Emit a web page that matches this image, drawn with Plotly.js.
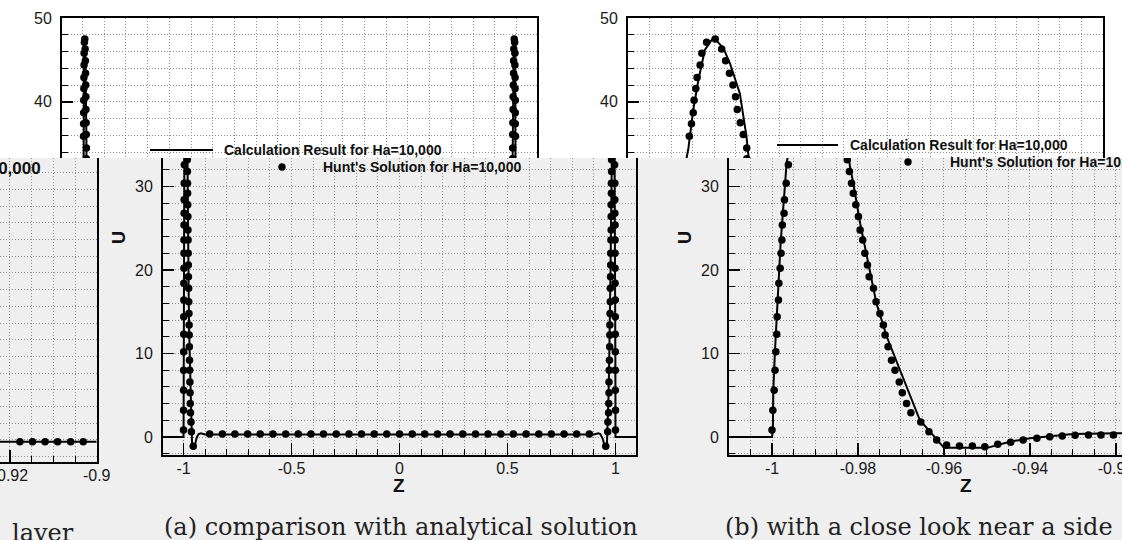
<!DOCTYPE html>
<html><head><meta charset="utf-8">
<script src="https://cdn.plot.ly/plotly-3.0.1.min.js"></script>
<style>html,body{margin:0;padding:0;background:#efefef;}#chart{width:1122px;height:540px;}</style>
</head><body><div id="chart"></div>
<script>
// ---------- DATA ----------
// Calculation result (solid line), left side wall and plateau start
const calcLeftZ = [-1.1, -1.0, -0.9998, -0.9997, -0.9993, -0.9989, -0.9984, -0.998, -0.9974, -0.9966, -0.996, -0.9949, -0.9937, -0.9922, -0.9902, -0.9879, -0.9864, -0.9841, -0.9826, -0.9819, -0.9811, -0.9795, -0.9776, -0.9757, -0.9733, -0.9702, -0.9679, -0.9656, -0.9629, -0.96, -0.95, -0.9447, -0.94, -0.9353, -0.93, -0.92, -0.9];
const calcLeftU = [0, 0, 0.8, 5.6, 10.4, 15.2, 19.2, 23.2, 27.2, 32.8, 34.5, 39.0, 42.6, 46.2, 47.7, 46.4, 44.6, 41.0, 36.0, 32.5, 30.4, 25.6, 20.8, 16.0, 12.0, 8.0, 5.0, 2.0, 0.44, -1.3, -1.3, -0.56, -0.16, 0.12, 0.36, 0.44, 0.3];
// Calculation result, right side wall
const calcRightZ = [0.9, 0.92, 0.93, 0.9353, 0.94, 0.9447, 0.95, 0.96, 0.9629, 0.9656, 0.9679, 0.9702, 0.9733, 0.9757, 0.9776, 0.9795, 0.9811, 0.9819, 0.9826, 0.9841, 0.9864, 0.9879, 0.9902, 0.9922, 0.9937, 0.9949, 0.996, 0.9966, 0.9974, 0.998, 0.9984, 0.9989, 0.9993, 0.9997, 0.9998, 1.0, 1.1];
const calcRightU = [0.3, 0.44, 0.36, 0.12, -0.16, -0.56, -1.3, -1.3, 0.44, 2.0, 5.0, 8.0, 12.0, 16.0, 20.8, 25.6, 30.4, 32.5, 36.0, 41.0, 44.6, 46.4, 47.7, 46.2, 42.6, 39.0, 34.5, 32.8, 27.2, 23.2, 19.2, 15.2, 10.4, 5.6, 0.8, 0, 0];

// Hunt's solution (dots): left wall, rising branch
const huntRiseZ = [-1.0, -0.9998, -0.9995, -0.9993, -0.9991, -0.9989, -0.9988, -0.9985, -0.9984, -0.9981, -0.9979, -0.9977, -0.9976, -0.9972, -0.9971, -0.9967, -0.9962];
const huntRiseU = [0.84, 3.2, 5.6, 8.0, 10.2, 12.3, 14.4, 16.4, 18.4, 20.2, 22.0, 23.6, 25.4, 26.8, 28.4, 30.4, 32.6];
// peak
const huntPeakZ = [-0.9958, -0.9953, -0.9949, -0.9947, -0.9943, -0.994, -0.9933, -0.9929, -0.9918, -0.9898, -0.9883, -0.9874, -0.9865, -0.9857, -0.9851, -0.9847, -0.984, -0.9833, -0.9825];
const huntPeakU = [35.9, 37.4, 38.7, 40.2, 41.6, 42.9, 44.4, 45.8, 47.1, 47.5, 46.3, 44.9, 43.4, 42.0, 40.6, 39.1, 37.5, 36.1, 34.5];
// falling branch
const huntFallZ = [-0.9825, -0.982, -0.9815, -0.9811, -0.9805, -0.9799, -0.9795, -0.9789, -0.9784, -0.9778, -0.9774, -0.9764, -0.9758, -0.9749, -0.9741, -0.9737, -0.973, -0.9722, -0.9714, -0.9704, -0.9697, -0.9687, -0.9677, -0.9654, -0.9635];
const huntFallU = [33.2, 31.8, 30.4, 29.2, 27.8, 26.4, 24.8, 23.6, 22.0, 20.6, 19.2, 17.8, 16.2, 14.8, 13.4, 12.2, 10.8, 9.2, 8.0, 6.6, 5.3, 4.0, 2.9, 1.8, 0.64];
// tail seen in the close-up (b)
const huntTailZ = [-0.9617, -0.9594, -0.9564, -0.9534, -0.9505, -0.9475, -0.9445, -0.9416, -0.9384, -0.9354, -0.9325, -0.9295, -0.9264, -0.9235, -0.9206];
const huntTailU = [-0.36, -0.96, -1.08, -1.08, -1.16, -0.88, -0.64, -0.36, -0.16, 0.04, 0.12, 0.2, 0.24, 0.24, 0.24];
// dips and core plateau seen in (a)
const huntDipZ = [-0.955, 0.955];
const huntDipU = [-1.1, -1.1];
const plateauZ = [-0.879, -0.820, -0.762, -0.703, -0.645, -0.586, -0.527, -0.469, -0.410, -0.352, -0.293, -0.234, -0.176, -0.117, -0.059, 0, 0.059, 0.117, 0.176, 0.234, 0.293, 0.352, 0.410, 0.469, 0.527, 0.586, 0.645, 0.703, 0.762, 0.820, 0.879];
const plateauU = [0.35, 0.35, 0.35, 0.35, 0.35, 0.35, 0.35, 0.35, 0.35, 0.35, 0.35, 0.35, 0.35, 0.35, 0.35, 0.35, 0.35, 0.35, 0.35, 0.35, 0.35, 0.35, 0.35, 0.35, 0.35, 0.35, 0.35, 0.35, 0.35, 0.35, 0.35];
// right wall dots in (a)
const huntRightZ = [0.964, 0.965, 0.968, 0.969, 0.970, 0.970, 0.971, 0.972, 0.973, 0.974, 0.974, 0.975, 0.976, 0.976, 0.977, 0.978, 0.978, 0.979, 0.980, 0.980, 0.980, 0.981, 0.981, 0.982, 0.982, 0.983, 0.983, 0.984, 0.985, 0.985, 0.986, 0.987, 0.987, 0.988, 0.990, 0.992, 0.993, 0.993, 0.994, 0.994, 0.995, 0.995, 0.995, 0.996, 0.996, 0.997, 0.997, 0.997, 0.998, 0.998, 0.998, 0.998, 0.998, 0.999, 0.999, 0.999, 0.999, 0.999, 0.999, 1.000, 1.000];
const huntRightU = [0.64, 1.8, 2.9, 4.0, 5.3, 6.6, 8.0, 9.2, 10.8, 12.2, 13.4, 14.8, 16.2, 17.8, 19.2, 20.6, 22.0, 23.6, 24.8, 26.4, 27.8, 29.2, 30.4, 31.8, 33.2, 34.5, 36.1, 37.5, 39.1, 40.6, 42.0, 43.4, 44.9, 46.3, 47.5, 47.1, 45.8, 44.4, 42.9, 41.6, 40.2, 38.7, 37.4, 35.9, 32.6, 30.4, 28.4, 26.8, 25.4, 23.6, 22.0, 20.2, 18.4, 16.4, 14.4, 12.3, 10.2, 8.0, 5.6, 3.2, 0.84];

// preceding figure (partly visible at the left)
const prevLineZ = [-0.93, -0.9];
const prevLineU = [-0.2, -0.2];
const prevDotZ = [-0.9177, -0.9148, -0.9119, -0.9090, -0.9060, -0.9031];
const prevDotU = [-0.2, -0.2, -0.2, -0.2, -0.2, -0.2];

// tick labels
const tickValsA = [-1, -0.5, 0, 0.5, 1];
const tickTextA = ['-1', '-0.5', '0', '0.5', '1'];
const tickValsB = [-1, -0.98, -0.96, -0.94, -0.92];
const tickTextB = ['-1', '-0.98', '-0.96', '-0.94', '-0.92'];
const tickValsP = [-0.92, -0.9];
const tickTextP = ['-0.92', '-0.9'];

const calcLabel = 'Calculation Result for Ha=10,000';
const huntLabel = "Hunt's Solution for Ha=10,000";
const captionA = '(a) comparison with analytical solution';
const captionB = '(b) with a close look near a side';
const captionPrev = 'layer';

// ---------- assembled series ----------
const calcZ = calcLeftZ.concat(calcRightZ);
const calcU = calcLeftU.concat(calcRightU);
const huntAZ = huntRiseZ.concat(huntPeakZ, huntFallZ, huntDipZ.slice(0,1), plateauZ, huntDipZ.slice(1), huntRightZ);
const huntAU = huntRiseU.concat(huntPeakU, huntFallU, huntDipU.slice(0,1), plateauU, huntDipU.slice(1), huntRightU);
const huntBZ = huntRiseZ.concat(huntPeakZ, huntFallZ, huntTailZ);
const huntBU = huntRiseU.concat(huntPeakU, huntFallU, huntTailU);

// ---------- layout helpers ----------
const W = 1122, H = 540, CUT = 158;
const fx = p => p / W, fy = p => 1 - p / H;
const SANS = '"Liberation Sans", Arial, sans-serif';
const SERIF = '"DejaVu Serif", serif';
const GRID = '#8e8e8e';
const DASH = '1px,2px';

function base(extra) {
  return Object.assign({
    showline: true, linecolor: '#000', linewidth: 2, zeroline: false,
    showgrid: true, gridcolor: GRID, gridwidth: 1, griddash: DASH,
    tickcolor: '#000', tickwidth: 1.5, ticklen: 11,
    tickfont: {family: SANS, size: 16, color: '#1a1a1a'},
    fixedrange: true, automargin: false, ticklabeloverflow: 'allow'
  }, extra);
}
function minor(dtick, ticks) {
  return {tickmode: 'linear', tick0: 0, dtick: dtick, ticks: ticks, ticklen: 6, tickwidth: 1,
          tickcolor: '#000', showgrid: true, gridcolor: GRID, gridwidth: 1, griddash: DASH};
}
function lineTrace(x, y, xa, ya) {
  return {x: x, y: y, xaxis: xa, yaxis: ya, type: 'scatter', mode: 'lines',
          line: {color: '#000', width: 2}, hoverinfo: 'skip', showlegend: false};
}
function dotTrace(x, y, xa, ya) {
  return {x: x, y: y, xaxis: xa, yaxis: ya, type: 'scatter', mode: 'markers',
          marker: {color: '#000', size: 7.5}, hoverinfo: 'skip', showlegend: false};
}
function note(text, px, py, opts) {
  return Object.assign({text: text, x: fx(px), y: fy(py), xref: 'paper', yref: 'paper',
    showarrow: false, xanchor: 'center', yanchor: 'middle'}, opts);
}

const data = [
  lineTrace(calcZ, calcU, 'x', 'y'), dotTrace(huntAZ, huntAU, 'x', 'y'),
  lineTrace(calcZ, calcU, 'x2', 'y2'), dotTrace(huntBZ, huntBU, 'x2', 'y2'),
  lineTrace(calcZ, calcU, 'x3', 'y3'), dotTrace(huntAZ, huntAU, 'x3', 'y3'),
  lineTrace(calcZ, calcU, 'x4', 'y4'), dotTrace(huntBZ, huntBU, 'x4', 'y4'),
  lineTrace(prevLineZ, prevLineU, 'x5', 'y5'), dotTrace(prevDotZ, prevDotU, 'x5', 'y5')
];

const topY = [fy(CUT), fy(18)];
const botY = [fy(455), fy(CUT)];
const bold18 = {family: SANS, size: 18, weight: 'bold', color: '#111'};
const bold19 = {family: SANS, size: 19, weight: 'bold', color: '#111'};
const legFont = {family: SANS, size: 14, weight: 'bold', color: '#111'};
const capFont = {family: SERIF, size: 24, color: '#222'};

const layout = {
  width: W, height: H, margin: {l: 0, r: 0, t: 0, b: 0, pad: 0},
  paper_bgcolor: '#efefef', plot_bgcolor: 'rgba(0,0,0,0)', showlegend: false,
  xaxis: base({domain: [fx(62), fx(537)], range: [-1.095, 1.095], anchor: 'y', side: 'top',
    ticks: '', showticklabels: false, tickmode: 'linear', tick0: 0, dtick: 0.5, minor: minor(0.1, '')}),
  yaxis: base({domain: topY, range: [33.3, 50], anchor: 'x', mirror: true, ticks: 'inside',
    tickmode: 'linear', tick0: 0, dtick: 10, minor: minor(2, 'inside'), ticklabelstandoff: 5}),
  xaxis2: base({domain: [fx(628), fx(1103)], range: [-1.01, -0.9], anchor: 'y2', side: 'top',
    ticks: '', showticklabels: false, tickmode: 'linear', tick0: 0, dtick: 0.02, minor: minor(0.005, '')}),
  yaxis2: base({domain: topY, range: [33.3, 50], anchor: 'x2', mirror: true, ticks: 'inside',
    tickmode: 'linear', tick0: 0, dtick: 10, minor: minor(2, 'inside'), ticklabelstandoff: 5}),
  xaxis3: base({domain: [fx(163), fx(636)], range: [-1.095, 1.095], anchor: 'y3', ticks: 'inside', ticklen: 12,
    tickmode: 'array', tickvals: tickValsA, ticktext: tickTextA, minor: minor(0.1, 'inside'), ticklabelstandoff: -2}),
  yaxis3: base({domain: botY, range: [-2.156, 33.41], anchor: 'x3', mirror: true, ticks: 'inside',
    tickmode: 'linear', tick0: 0, dtick: 10, minor: minor(2, 'inside'), ticklabelstandoff: 5}),
  xaxis4: base({domain: [fx(729), 1], range: [-1.01, -0.9186], anchor: 'y4', ticks: 'inside', ticklen: 12,
    tickmode: 'array', tickvals: tickValsB, ticktext: tickTextB, minor: minor(0.005, 'inside'), ticklabelstandoff: -2}),
  yaxis4: base({domain: botY, range: [-2.156, 33.41], anchor: 'x4', mirror: false, ticks: 'inside',
    tickmode: 'linear', tick0: 0, dtick: 10, minor: minor(2, 'inside'), ticklabelstandoff: 5}),
  xaxis5: base({domain: [0, fx(96.7)], range: [-0.92228, -0.9], anchor: 'y5', ticks: 'inside', ticklen: 12,
    tickmode: 'array', tickvals: tickValsP, ticktext: tickTextP, minor: minor(0.005, 'inside'), ticklabelstandoff: -2}),
  yaxis5: base({domain: [fy(461.7), fy(CUT)], range: [-2.6, 33.77], anchor: 'x5', side: 'right', mirror: false,
    ticks: '', showticklabels: false, tickmode: 'linear', tick0: 0, dtick: 10, minor: minor(2, '')}),
  shapes: [
    {type: 'rect', xref: 'paper', yref: 'paper', x0: 0, x1: 1, y0: fy(CUT), y1: 1,
     fillcolor: '#ffffff', line: {width: 0}, layer: 'below'},
    {type: 'line', xref: 'paper', yref: 'paper', x0: fx(150), x1: fx(213), y0: fy(150), y1: fy(150),
     line: {color: '#000', width: 2}},
    {type: 'line', xref: 'paper', yref: 'paper', x0: fx(777), x1: fx(838), y0: fy(145), y1: fy(145),
     line: {color: '#000', width: 2}},
    {type: 'circle', xref: 'paper', yref: 'paper', x0: fx(278.3), x1: fx(285.7), y0: fy(170.7), y1: fy(163.3),
     fillcolor: '#000', line: {width: 0}},
    {type: 'circle', xref: 'paper', yref: 'paper', x0: fx(904.3), x1: fx(911.7), y0: fy(165.7), y1: fy(158.3),
     fillcolor: '#000', line: {width: 0}}
  ],
  annotations: [
    note('U', 119, 238, {textangle: -90, font: bold18}),
    note('U', 685, 238, {textangle: -90, font: bold18}),
    note('Z', 399, 485, {font: bold19}),
    note('Z', 966, 485, {font: bold19}),
    note(calcLabel, 222, 150, {xanchor: 'left', font: legFont}),
    note(calcLabel, 848, 145, {xanchor: 'left', font: legFont}),
    note(huntLabel, 321, 167, {xanchor: 'left', font: legFont}),
    note(huntLabel, 948, 162, {xanchor: 'left', font: legFont}),
    note(huntLabel, 43, 168, {xanchor: 'right', font: {family: SANS, size: 17, weight: 'bold', color: '#111'}}),
    note(captionA, 401, 527, {font: capFont}),
    note(captionB, 723, 527, {xanchor: 'left', font: capFont}),
    note(captionPrev, 10, 533, {xanchor: 'left', font: capFont})
  ]
};

Plotly.newPlot('chart', data, layout, {staticPlot: true, displayModeBar: false});
</script>
</body></html>
